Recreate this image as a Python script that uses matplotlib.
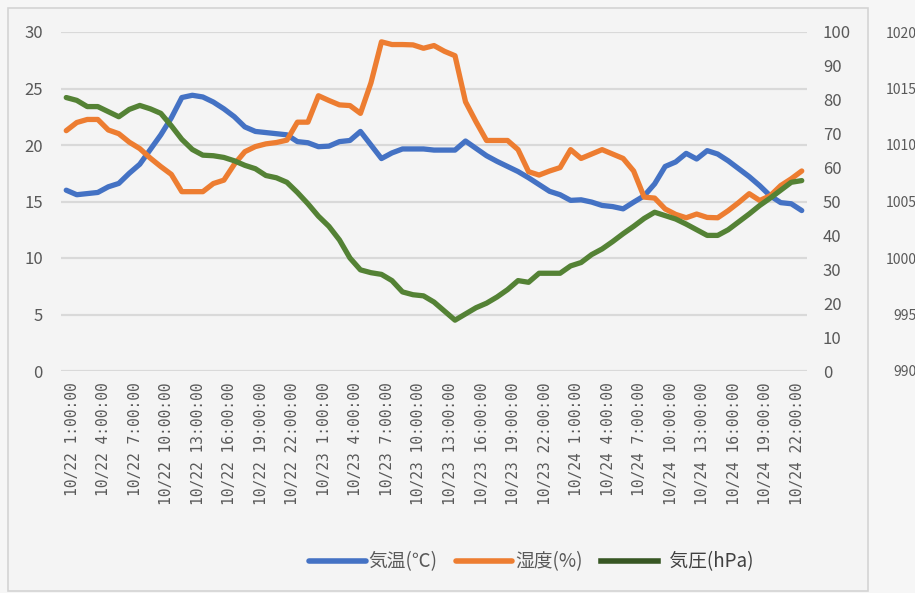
import matplotlib
matplotlib.use('Agg')
import matplotlib.pyplot as plt
from matplotlib.lines import Line2D
from matplotlib.patches import Rectangle
import matplotlib.transforms as mtrans

plt.rcParams['font.family'] = ['Noto Sans CJK JP', 'DejaVu Sans']

# ---- data ----
categories = [f"10/{d} {h}:00:00" for d in (22, 23, 24) for h in range(24)
              if not (d == 22 and h == 0)]

temperature = [16.0, 15.6, 15.7, 15.8, 16.3, 16.6, 17.5, 18.3, 19.6, 20.9,
               22.4, 24.2, 24.4, 24.25, 23.8, 23.2, 22.5, 21.6, 21.2, 21.1,
               21.0, 20.9, 20.3, 20.2, 19.85, 19.9, 20.3, 20.4, 21.2, 20.0,
               18.8, 19.3, 19.65, 19.65, 19.65, 19.55, 19.55, 19.55, 20.35, 19.7,
               19.05, 18.55, 18.1, 17.65, 17.1, 16.5, 15.9, 15.6, 15.1, 15.15,
               14.95, 14.65, 14.55, 14.35, 14.94, 15.5, 16.56, 18.1, 18.5, 19.26,
               18.76, 19.5, 19.2, 18.6, 17.9, 17.2, 16.4, 15.5, 14.9, 14.8,
               14.2]

humidity = [70.9, 73.3, 74.2, 74.2, 71.1, 70.0, 67.5, 65.6, 62.8, 60.3,
            58.0, 52.9, 52.9, 52.9, 55.3, 56.3, 61.0, 64.7, 66.2, 67.0,
            67.4, 68.1, 73.4, 73.4, 81.2, 79.8, 78.5, 78.3, 76.0, 85.0,
            97.1, 96.3, 96.3, 96.2, 95.2, 96.0, 94.3, 93.0, 79.4, 73.5,
            68.0, 68.0, 68.0, 65.3, 58.8, 57.8, 59.0, 60.0, 65.3, 62.7,
            64.0, 65.3, 64.0, 62.7, 59.0, 51.3, 51.0, 47.8, 46.2, 45.2,
            46.3, 45.3, 45.2, 47.3, 49.7, 52.3, 50.3, 51.7, 54.7, 56.7,
            59.0]

pressure = [1014.2, 1013.95, 1013.4, 1013.4, 1012.95, 1012.5, 1013.15, 1013.5, 1013.2, 1012.8,
            1011.7, 1010.5, 1009.6, 1009.1, 1009.05, 1008.9, 1008.6, 1008.2, 1007.9, 1007.3,
            1007.1, 1006.7, 1005.8, 1004.8, 1003.7, 1002.8, 1001.6, 1000.0, 998.95, 998.7,
            998.55, 998.0, 997.0, 996.75, 996.65, 996.1, 995.3, 994.5, 995.05, 995.6,
            996.0, 996.55, 997.2, 998.0, 997.85, 998.65, 998.65, 998.65, 999.3, 999.6,
            1000.3, 1000.8, 1001.45, 1002.15, 1002.8, 1003.5, 1004.05, 1003.75, 1003.45, 1003.0,
            1002.5, 1002.0, 1002.0, 1002.5, 1003.2, 1003.9, 1004.65, 1005.3, 1006.0, 1006.7,
            1006.85]

series_names = ['気温(℃)', '湿度(%)', '\u2002気圧(hPa)']
temp_ticks = [0, 5, 10, 15, 20, 25, 30]
hum_ticks = [0, 10, 20, 30, 40, 50, 60, 70, 80, 90, 100]
pres_ticks = [990, 995, 1000, 1005, 1010, 1015, 1020]

# ---- figure ----
W, H = 915, 593
fig = plt.figure(figsize=(W / 100, H / 100), dpi=100, facecolor='#f6f6f6')

# chart box
box = Rectangle((8 / W, 1 - 591 / H), 860 / W, 583 / H,
                transform=fig.transFigure, facecolor='#f4f4f4',
                edgecolor='#d4d4d4', linewidth=1.2, zorder=-10)
fig.patches.append(box)

left, right, top, bottom = 61 / W, 807 / W, 1 - 32 / H, 1 - 371 / H
ax = fig.add_axes([left, bottom, right - left, top - bottom])
ax.set_facecolor('none')
ax2 = ax.twinx()
ax3 = ax.twinx()

x = list(range(len(categories)))
blue, orange, green, green_dark = '#4472C4', '#ED7D31', '#548235', '#375623'
tick_col = '#595959'

ax.plot(x, temperature, color=blue, lw=3.8, solid_joinstyle='round', solid_capstyle='round', zorder=3)
ax2.plot(x, humidity, color=orange, lw=3.8, solid_joinstyle='round', solid_capstyle='round', zorder=3)
ax3.plot(x, pressure, color=green, lw=3.8, solid_joinstyle='round', solid_capstyle='round', zorder=3)

ax.set_xlim(-0.5, len(categories) - 0.5)
ax.set_ylim(0, 30)
ax2.set_ylim(0, 100)
ax3.set_ylim(990, 1020)

ax.set_yticks(temp_ticks)
ax2.set_yticks(hum_ticks)
ax3.set_yticks(pres_ticks)

ax.yaxis.grid(True, color='#d9d9d9', lw=1.6)
ax.set_axisbelow(True)

for a in (ax, ax2, ax3):
    a.set_facecolor('none')
    for s in a.spines.values():
        s.set_visible(False)

ax.tick_params(axis='y', length=0, pad=13, labelsize=12, labelcolor=tick_col)
ax2.tick_params(axis='y', length=0, pad=11.5, labelsize=12, labelcolor=tick_col)
ax3.tick_params(axis='y', length=0, pad=79, labelsize=10, labelcolor=tick_col)
for lab in ax3.get_yticklabels():
    lab.set_horizontalalignment('right')

ax.set_xticks(x[::3])
ax.set_xticklabels(categories[::3], rotation=90, family='DejaVu Sans Mono',
                   fontsize=10.5, color=tick_col)
ax.tick_params(axis='x', length=0, pad=8)
off = mtrans.ScaledTranslation(6 / 100, 0, fig.dpi_scale_trans)
for lab in ax.get_xticklabels():
    lab.set_transform(lab.get_transform() + off)

handles = [Line2D([], [], color=blue, lw=4, solid_capstyle='round'),
           Line2D([], [], color=orange, lw=4, solid_capstyle='round'),
           Line2D([], [], color=green_dark, lw=4)]
leg = fig.legend(handles, series_names, loc='center', bbox_to_anchor=(0.581, 1 - 562 / H),
                 ncol=3, frameon=False, fontsize=13.5, handlelength=3.0,
                 handletextpad=0.15, columnspacing=1.0)
for t, c in zip(leg.get_texts(), [tick_col, tick_col, '#404040']):
    t.set_color(c)

fig.savefig('out.png', dpi=100, facecolor=fig.get_facecolor())
